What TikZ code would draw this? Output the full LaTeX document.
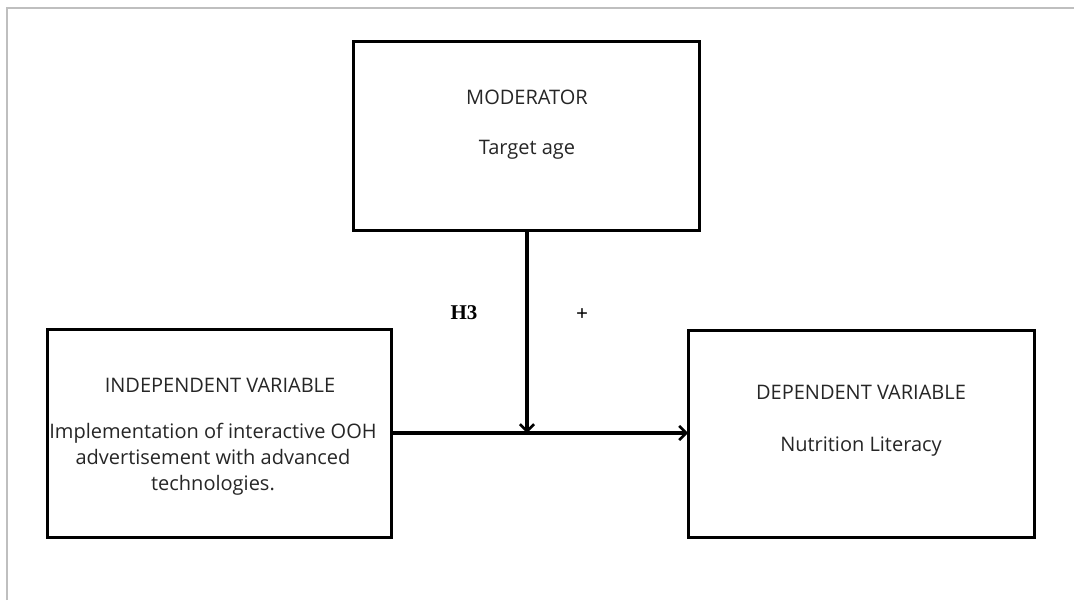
\documentclass[tikz,border=0pt]{standalone}
\usepackage{fontspec}
\setmainfont{Open Sans}
\newfontfamily\timesfont{Liberation Serif}
\usetikzlibrary{arrows.meta}
\begin{document}
\begin{tikzpicture}[x=1pt,y=-1pt,
  box/.style={draw=black,line width=3pt},
  lbl/.style={font=\fontsize{20}{26}\selectfont,text=black!85,inner sep=0pt,align=center},
  hlbl/.style={font=\timesfont\bfseries\fontsize{21}{24}\selectfont,inner sep=0pt},
  conn/.style={line width=3.2pt,-{Straight Barb[length=7pt,width=14pt,line width=2.6pt]}},
  frame/.style={draw=black!25,line width=1.3pt}]
\useasboundingbox (0,0) rectangle (1074,600);
\fill[white] (0,0) rectangle (1074,600);
\coordinate (fa) at (7,600);
\coordinate (fb) at (7,8);
\coordinate (fc) at (1074,8);
\draw[frame] (fa) -- (fb) -- (fc);
% boxes
\draw[box] (353,41) rectangle (699,230);
\draw[box] (47,329) rectangle (391,537);
\draw[box] (688,330) rectangle (1034,537);
\coordinate (modB) at (527,230);
\coordinate (indR) at (391,433);
\coordinate (depL) at (688,433);
\coordinate (mid) at (527,433);
% texts
\node[lbl] (mt) at (527,97) {MODERATOR};
\node[lbl] (mb) at (527,150) {Target age};
\node[lbl] (it) at (220,385) {INDEPENDENT VARIABLE};
\node[lbl] (ib) at (213,459) {Implementation of interactive OOH\\advertisement with advanced\\technologies.};
\node[lbl] (dt) at (861,392) {DEPENDENT VARIABLE};
\node[lbl] (db) at (861,447) {Nutrition Literacy};
\node[hlbl] (h3) at (464,313) {H3};
\node[hlbl] (plus) at (582,315) {+};
% connectors
\draw[conn] (indR) -- (depL);
\draw[conn] (modB) -- (mid);
\end{tikzpicture}
\end{document}
